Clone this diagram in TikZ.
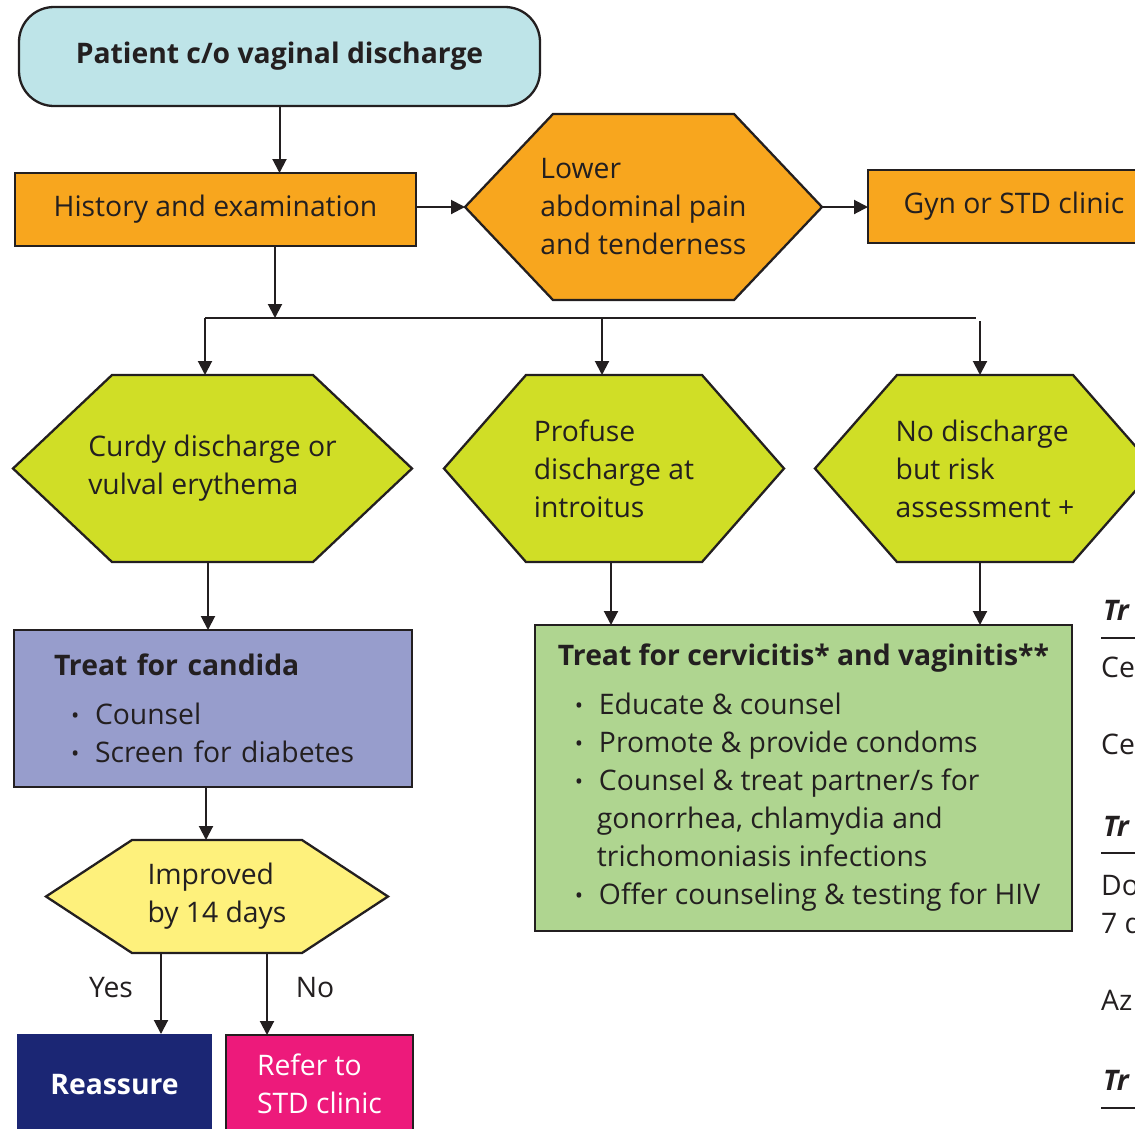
\documentclass[tikz,border=0pt]{standalone}
\usepackage{fontspec}
\setmainfont{Open Sans}
\usetikzlibrary{arrows.meta,calc,backgrounds}

\definecolor{ink}{RGB}{35,31,32}
\definecolor{startcyan}{RGB}{190,228,232}
\definecolor{steporange}{RGB}{248,166,30}
\definecolor{decisionlime}{RGB}{208,222,38}
\definecolor{candidablue}{RGB}{151,157,204}
\definecolor{checkyellow}{RGB}{254,241,124}
\definecolor{treatgreen}{RGB}{175,213,144}
\definecolor{reassurenavy}{RGB}{27,38,116}
\definecolor{refermagenta}{RGB}{237,26,123}

\newcommand\fs{\fontsize{28.3}{38}\selectfont}
% bullet item with hanging indent
\newcommand\bitem{\hspace*{17pt}\makebox[24pt][l]{\raisebox{1.5pt}{\fontsize{22}{22}\selectfont\textbullet}}}
\newcommand\bcont{\hspace*{39pt}}

% hexagon drawn behind a node, corners cut by the given inset
\newcommand\hexoutline[3]{%
  \begin{scope}[on background layer]
    \draw[line width=2.3pt, draw=ink, fill=#3, line join=miter]
      (#1.west) -- ($(#1.north west)+(#2,0)$) -- ($(#1.north east)-(#2,0)$)
      -- (#1.east) -- ($(#1.south east)-(#2,0)$) -- ($(#1.south west)+(#2,0)$) -- cycle;
  \end{scope}}

\tikzset{
  every node/.style={text=ink, font=\fs},
  box/.style={draw=ink, line width=2.3pt, inner sep=0pt, outer sep=0pt},
  hexnode/.style={inner sep=0pt, outer sep=0pt, align=left},
  arr/.style={draw=ink, line width=2pt, -{Triangle[length=14pt,width=14pt]}},
  link/.style={draw=ink, line width=2pt},
}

\begin{document}
\begin{tikzpicture}[x=1pt,y=-1pt]
\useasboundingbox (0,0) rectangle (1135,1128);

% top row
\node[box, rounded corners=35pt, fill=startcyan, minimum width=521pt, minimum height=99pt,
      font=\fs\bfseries] (start) at (279.5,56.5) {Patient c/o vaginal discharge};
\node[box, fill=steporange, minimum width=401pt, minimum height=73pt] (hist) at (215.5,209.5)
      {History and examination};
\node[hexnode, minimum width=357pt, minimum height=186pt] (pain) at (643.5,207)
      {Lower\\abdominal pain\\and tenderness};
\hexoutline{pain}{88pt}{steporange}
\node[box, fill=steporange, minimum width=292pt, minimum height=73pt] (gyn) at (1014,206.5)
      {Gyn or STD clinic};

\draw[arr] (start.south) -- (start.south |- hist.north);
\draw[arr] (hist.east |- pain.west) -- (pain.west);
\draw[arr] (pain.east) -- (gyn.west |- pain.east);

% branching to the three presentations
\coordinate (split) at (275,318);
\coordinate (bl) at (205,318);
\coordinate (bm) at (602,318);
\coordinate (be) at (976,318);
\coordinate (bri) at (980,321);
\draw[arr] (hist.south -| split) -- (split);
\draw[link] (bl) -- (be);

\node[hexnode, minimum width=399pt, minimum height=187pt] (curdy) at (212.5,468.5)
      {Curdy discharge or\\vulval erythema};
\hexoutline{curdy}{99pt}{decisionlime}
\node[hexnode, minimum width=340pt, minimum height=187pt] (profuse) at (614,468.5)
      {Profuse\\discharge at\\introitus};
\hexoutline{profuse}{82pt}{decisionlime}
\node[hexnode, minimum width=340pt, minimum height=187pt] (risk) at (985,468.5)
      {No discharge\\but risk\\assessment +};
\hexoutline{risk}{82pt}{decisionlime}

\draw[arr] (bl) -- (bl |- curdy.north);
\draw[arr] (bm) -- (bm |- profuse.north);
\draw[arr] (bri) -- (bri |- risk.north);

% treatment boxes
\node[box, fill=candidablue, minimum width=398pt, minimum height=157pt,
      text width=318pt, align=left] (cand) at (213,708.5)
      {\textbf{Treat for candida}\\[11pt]
       \bitem Counsel\\
       \bitem Screen for diabetes};
\node[box, fill=treatgreen, minimum width=537pt, minimum height=306pt,
      align=left] (green) at (803.5,778)
      {\textbf{Treat for cervicitis* and vaginitis**}\\[11pt]
       \bitem Educate \& counsel\\
       \bitem Promote \& provide condoms\\
       \bitem Counsel \& treat partner/s for\\
       \bcont gonorrhea, chlamydia and\\
       \bcont trichomoniasis infections\\
       \bitem Offer counseling \& testing for HIV};

\draw[arr] ([xshift=-4.5pt]curdy.south) -- ([xshift=-4.5pt]curdy.south |- cand.north);
\draw[arr] ([xshift=-3pt]profuse.south) -- ([xshift=-3pt]profuse.south |- green.north);
\draw[arr] ([xshift=-5pt]risk.south) -- ([xshift=-5pt]risk.south |- green.north);

% follow-up for candida
\node[hexnode, minimum width=342pt, minimum height=113pt] (improved) at (217,896.5)
      {Improved\\by 14 days};
\hexoutline{improved}{86pt}{checkyellow}
\draw[arr] ([xshift=-7pt]cand.south) -- ([xshift=-7pt]cand.south |- improved.north);

\node[fill=reassurenavy, inner sep=0pt, outer sep=0pt, minimum width=195pt, minimum height=102pt,
      text=white, font=\fs\bfseries] (reassure) at (114.5,1085) {Reassure};
\node[box, fill=refermagenta, minimum width=187pt, minimum height=97pt, text=white,
      align=left] (refer) at (319.5,1083.5) {Refer to\\STD clinic};

\draw[arr] ([xshift=-56pt]improved.south) -- ([xshift=-56pt]improved.south |- reassure.north);
\draw[arr] ([xshift=50pt]improved.south) -- ([xshift=50pt]improved.south |- refer.north);
\node (yes) at (111,988) {Yes};
\node (no) at (315,988) {No};

% regimen column along the right edge
\begin{scope}[every node/.append style={anchor=base west, inner sep=0pt}]
  \node[font=\fs\bfseries\itshape] (regA) at (1103,620) {Tr};
  \node (drugA) at (1101,677) {Ce};
  \node (drugB) at (1101,754) {Ce};
  \node[font=\fs\bfseries\itshape] (regB) at (1103,836) {Tr};
  \node (drugC) at (1101,895) {Do};
  \node (drugCd) at (1101,933) {7 d};
  \node (drugD) at (1101,1010) {Az};
  \node[font=\fs\bfseries\itshape] (regC) at (1103,1090) {Tr};
\end{scope}
\draw[link] (1101,638) -- (1145,638);
\draw[link] (1101,853) -- (1145,853);
\draw[link] (1101,1108) -- (1145,1108);
\end{tikzpicture}
\end{document}
